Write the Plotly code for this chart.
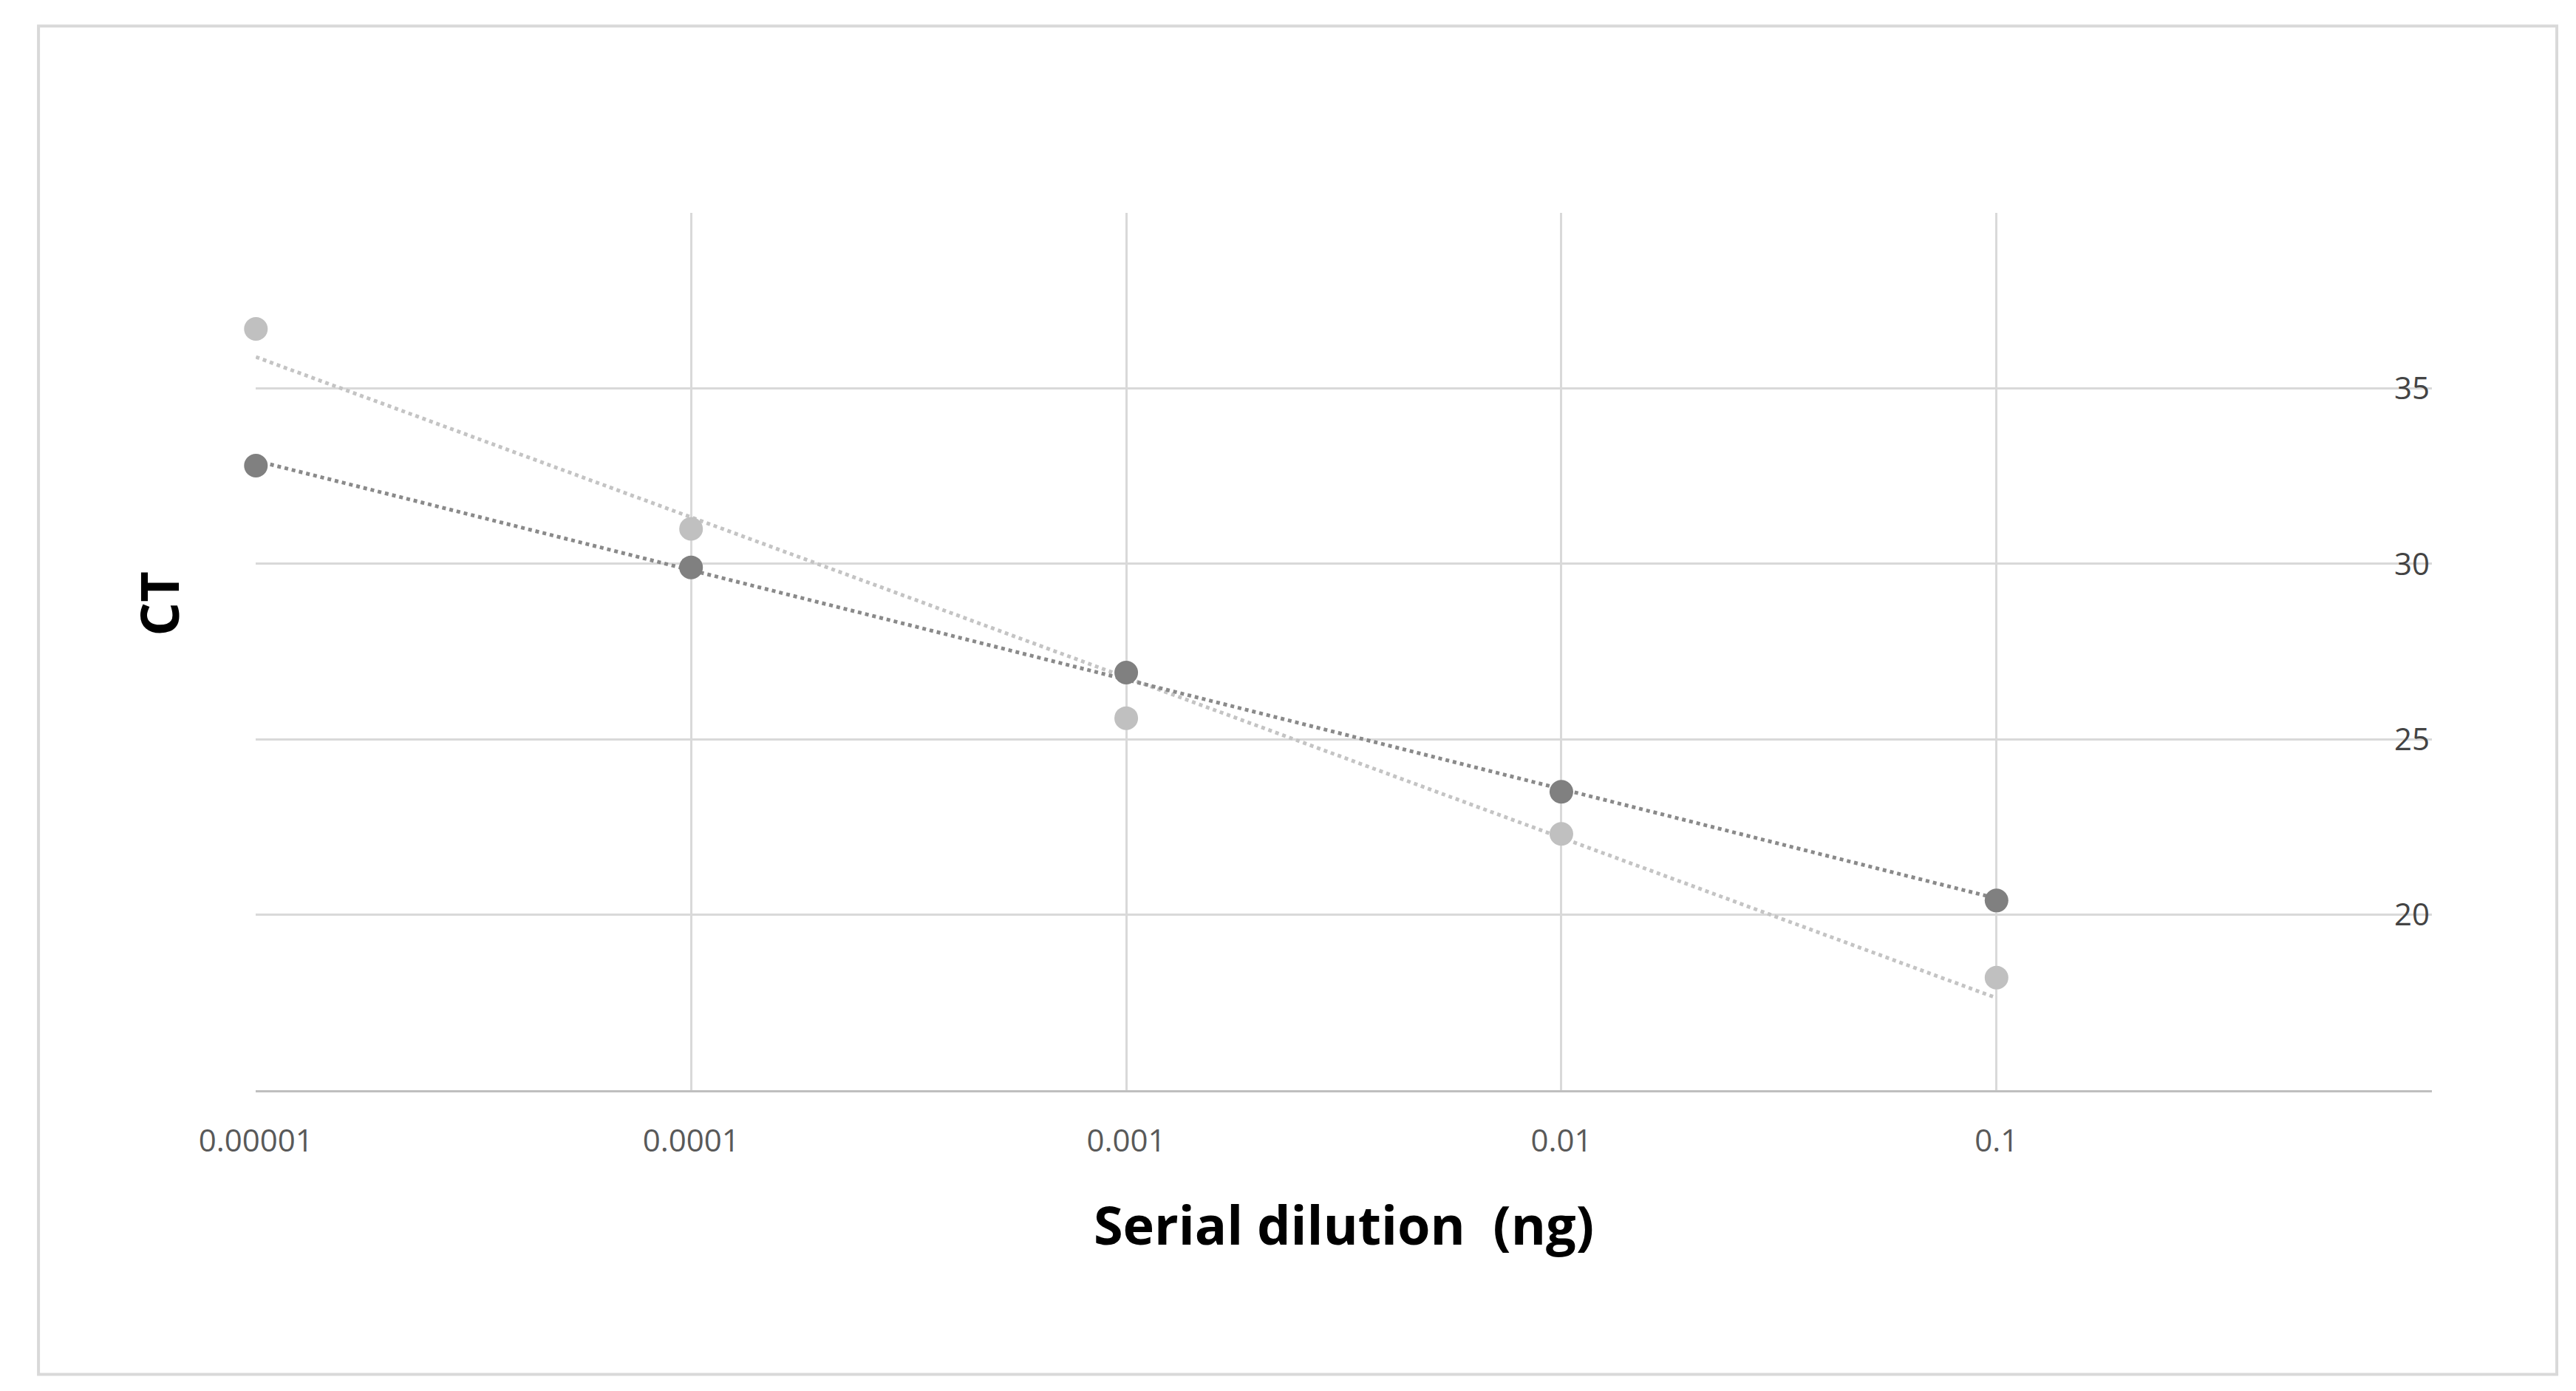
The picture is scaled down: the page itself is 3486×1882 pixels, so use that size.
import numpy as np
import plotly.graph_objects as go

dilution = [0.00001, 0.0001, 0.001, 0.01, 0.1]
ct_dark = [32.8, 29.9, 26.9, 23.5, 20.4]
ct_light = [36.7, 31.0, 25.6, 22.3, 18.2]
x_ticks = [0.00001, 0.0001, 0.001, 0.01, 0.1, 1]
x_tick_labels = ["0.00001", "0.0001", "0.001", "0.01", "0.1", "1"]
y_ticks = [15, 20, 25, 30, 35, 40]

fig = go.Figure()
lx = np.log10(dilution)
for ys, mc, lc in [(ct_light, "#c0c0c0", "#c4c4c4"), (ct_dark, "#808080", "#8a8a8a")]:
    m, b = np.polyfit(lx, ys, 1)
    fig.add_trace(go.Scatter(x=dilution, y=list(m * lx + b), mode="lines", cliponaxis=False,
                             line=dict(color=lc, width=5, dash="dot"), showlegend=False))
    fig.add_trace(go.Scatter(x=dilution, y=ys, mode="markers", cliponaxis=False,
                             marker=dict(color=mc, size=32), showlegend=False))

fig.update_layout(
    width=3486, height=1882, paper_bgcolor="white", plot_bgcolor="white",
    margin=dict(l=338, r=203, t=280, b=415),
    font=dict(family="Open Sans", color="#595959", size=42),
    xaxis=dict(type="log", range=[-5.0005, 0.0005], tickvals=x_ticks, ticktext=x_tick_labels,
               showgrid=True, gridcolor="#d9d9d9", gridwidth=3, zeroline=False,
               showline=True, linecolor="#bfbfbf", linewidth=3, ticklabelstandoff=30,
               title=dict(text="<b>Serial dilution  (ng)</b>", font=dict(size=72, color="black"), standoff=65)),
    yaxis=dict(range=[14.99, 40.01], tickvals=y_ticks, side="right", ticklabelposition="inside",
               showgrid=True, gridcolor="#d9d9d9", gridwidth=3, zeroline=False),
    annotations=[dict(text="<b>CT</b>", xref="paper", yref="paper", x=-0.062, y=0.555,
                      textangle=-90, showarrow=False, font=dict(size=72, color="black"))],
    shapes=[dict(type="rect", xref="paper", yref="paper", x0=-0.0998, x1=1.0574,
                 y0=-0.324, y1=1.213, line=dict(color="#d9d9d9", width=4))],
)
fig.write_html("out.html")
